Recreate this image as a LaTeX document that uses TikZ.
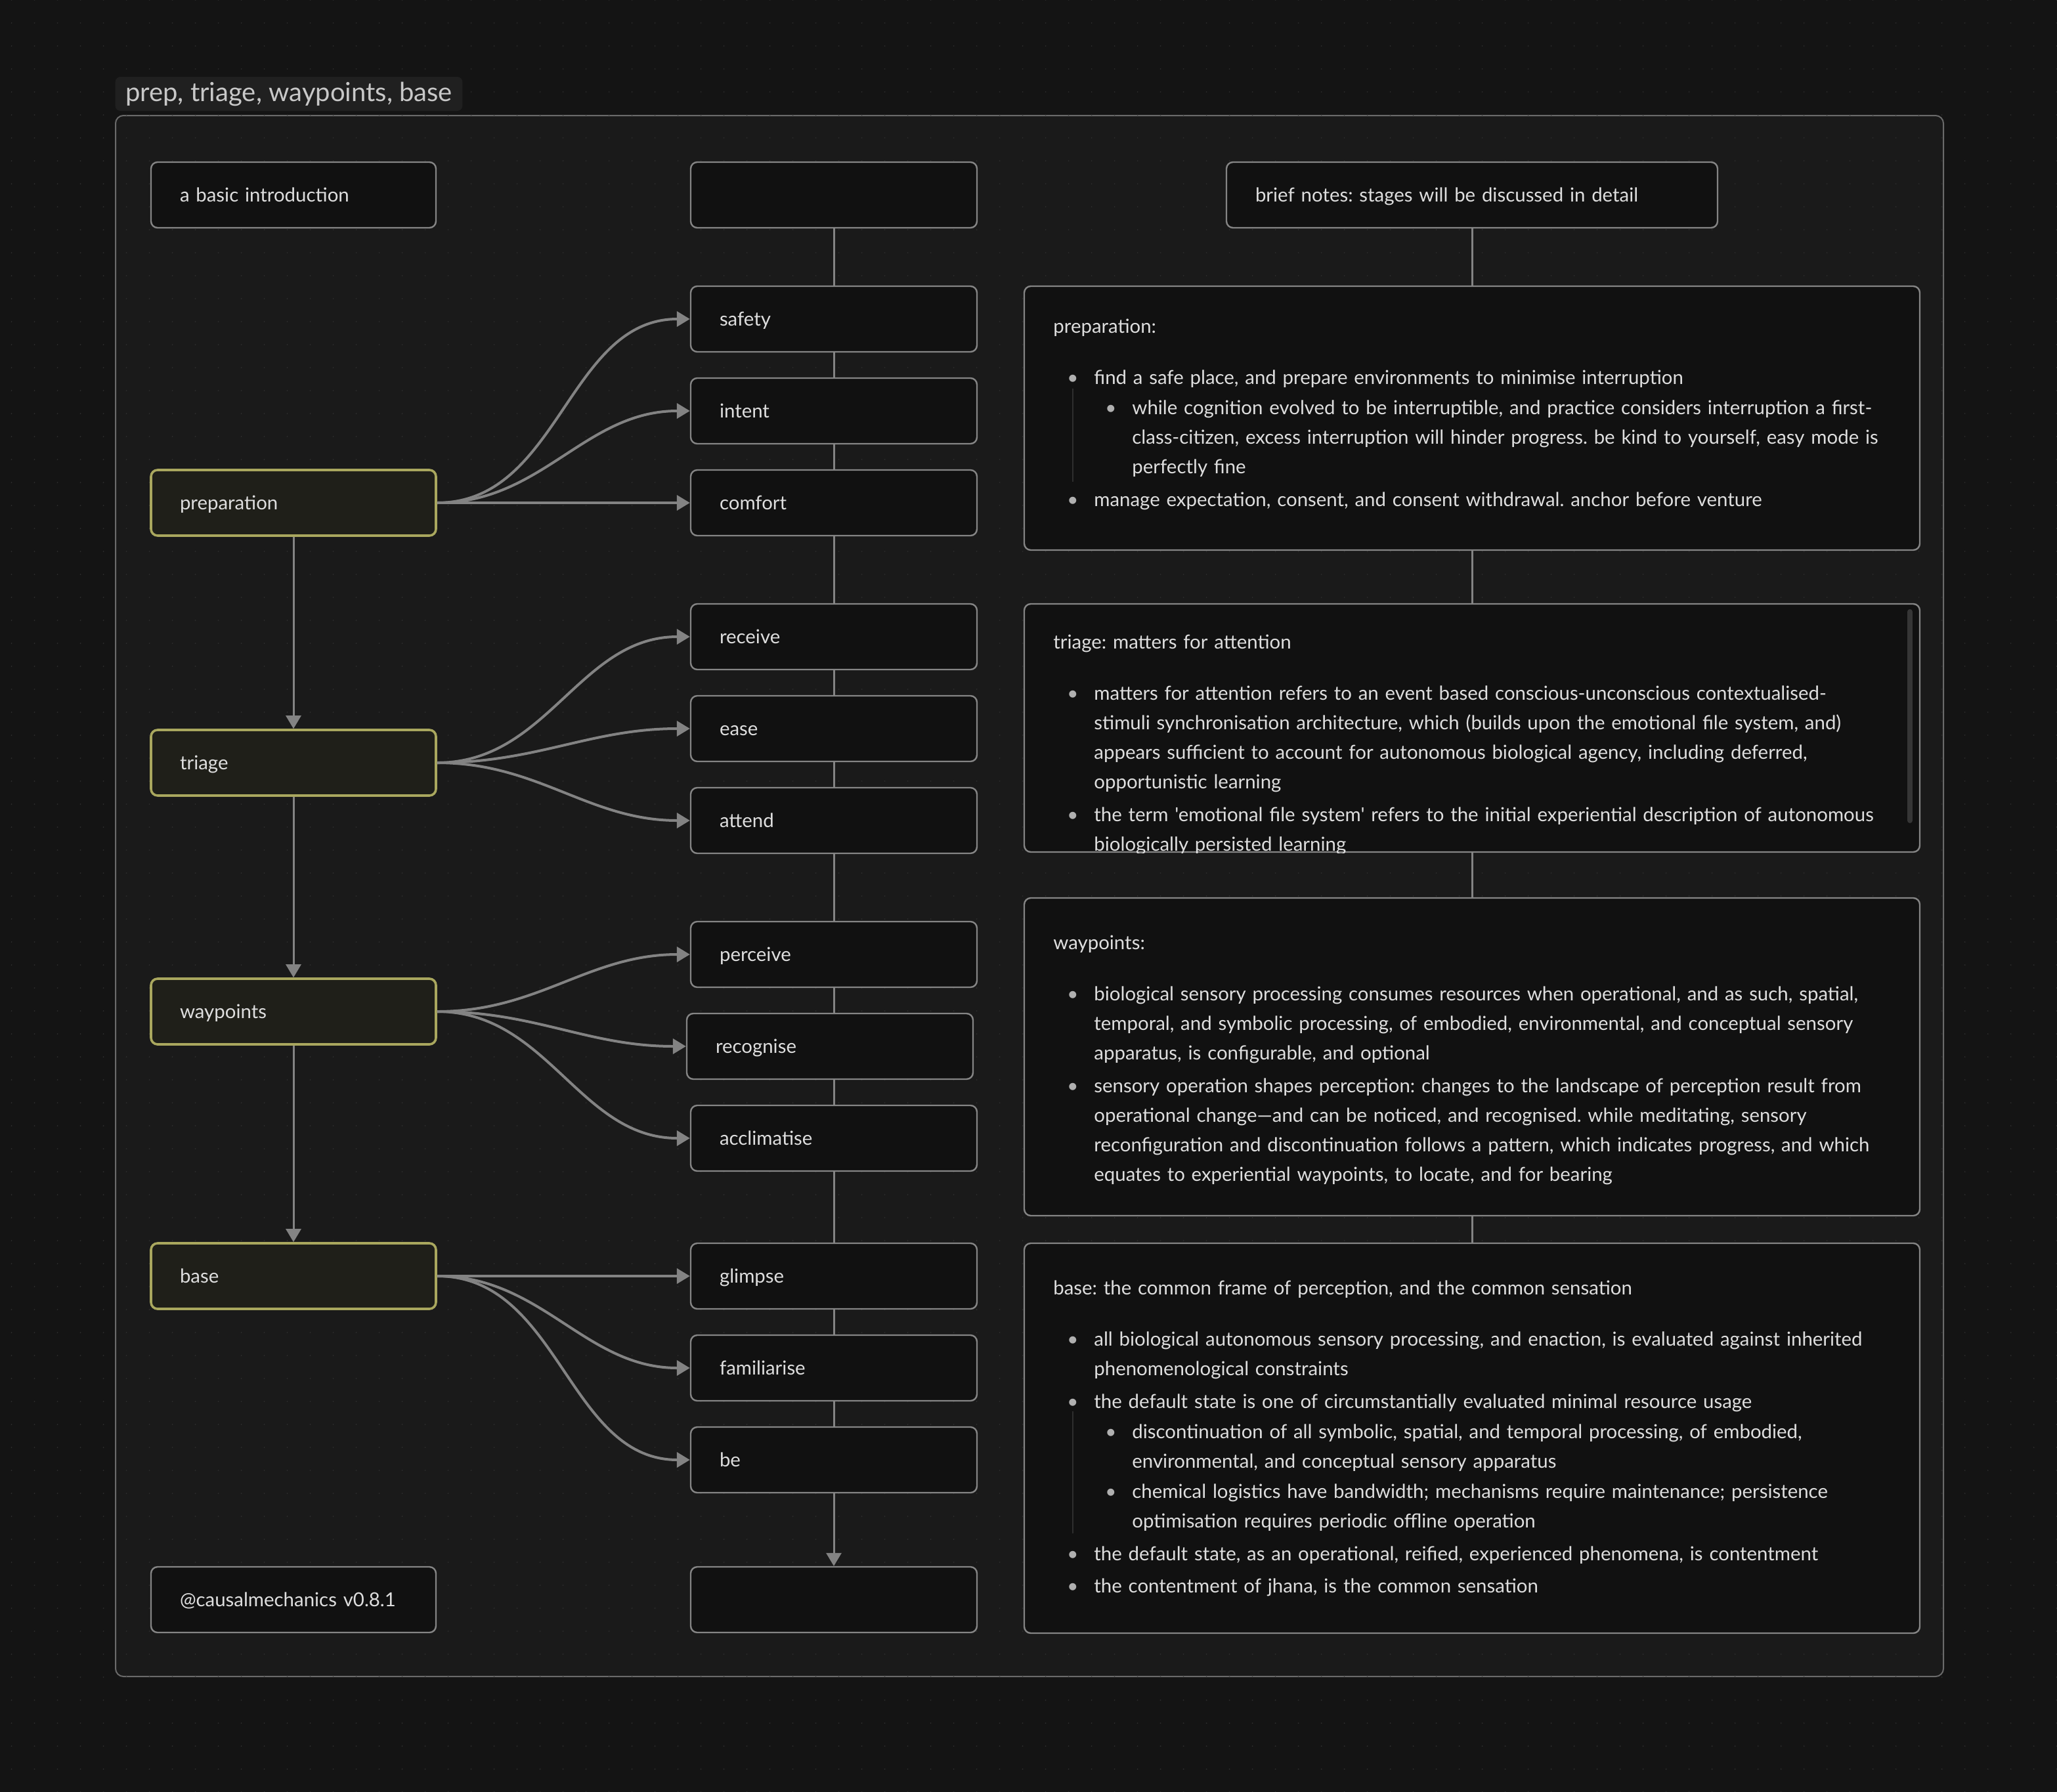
\documentclass[tikz,border=0pt]{standalone}
\usepackage{fontspec}
\setmainfont{Lato}[Ligatures=TeXOff]
\usetikzlibrary{arrows.meta}

\definecolor{pagebg}{HTML}{141414}
\definecolor{framebg}{HTML}{1A1A1A}
\definecolor{framerule}{HTML}{6A6A6A}
\definecolor{tabbg}{HTML}{202020}
\definecolor{tabtext}{HTML}{C8C8C8}
\definecolor{dotgrey}{HTML}{2C2C2C}
\definecolor{boxfill}{HTML}{111111}
\definecolor{boxrule}{HTML}{858585}
\definecolor{stagefill}{HTML}{1F1F19}
\definecolor{stagerule}{HTML}{A9A75E}
\definecolor{linkgrey}{HTML}{838383}
\definecolor{labeltext}{HTML}{DEDEDE}
\definecolor{bulletgrey}{HTML}{B0B0B0}
\definecolor{guidegrey}{HTML}{2E2E2E}
\definecolor{scrollgrey}{HTML}{363636}

\newcommand{\labelfont}{\fontsize{14.7}{26}\selectfont\frenchspacing}
\newcommand{\notefont}{\fontsize{14.7}{22.5}\selectfont\frenchspacing}
\newcommand{\notehead}[1]{#1\par\vspace{14.5pt}}
\newcommand{\noteitem}[1]{\par\vspace{2.3pt}\hangindent=31pt\hangafter=0\noindent\llap{{\color{bulletgrey}\textbullet}\hspace{12pt}}#1\par}
\newcommand{\notesubitem}[1]{\par\vspace{0.6pt}\hangindent=60pt\hangafter=0\noindent\llap{{\color{bulletgrey}\textbullet}\hspace{12pt}}#1\par}

\begin{document}
\begin{tikzpicture}[x=1pt, y=-1pt,
  box/.style={draw=boxrule, fill=boxfill, line width=1.2pt, rounded corners=5pt, minimum height=50pt, inner xsep=22pt, inner ysep=0pt, text width=173pt, align=left, text=labeltext, font=\labelfont, execute at begin node=\strut},
  stage/.style={box, draw=stagerule, fill=stagefill, line width=1.8pt},
  notebox/.style={draw=boxrule, fill=boxfill, line width=1.2pt, rounded corners=5pt, minimum width=682pt},
  notetext/.style={anchor=base west, inner sep=0pt, text width=660pt, align=left, text=labeltext, font=\notefont},
  link/.style={draw=linkgrey, line width=2pt, -{Triangle[length=10pt,width=11.5pt]}},
  flow/.style={draw=linkgrey, line width=1.5pt, -{Triangle[length=10pt,width=11.5pt]}},
  chain/.style={draw=linkgrey, line width=1.5pt}]

\useasboundingbox (0,0) rectangle (1566.5,1365);
\fill[pagebg] (0,0) rectangle (1566.5,1365);
\draw[framerule, fill=framebg, line width=1pt, rounded corners=6pt] (88,88) rectangle (1480,1277);
\foreach \i in {0,...,89}
  \foreach \j in {0,...,78}
    \fill[dotgrey] (8.8+17.5*\i, 17.5*\j) circle (0.55pt);

\node[fill=tabbg, rounded corners=4pt, minimum height=26pt, inner xsep=7.7pt, inner ysep=0pt, anchor=west, text=tabtext, font=\fontsize{20}{24}\selectfont] (title) at (87.6,71.5) {prep, triage, waypoints, base};

\node[box] (intro) at (223.5,148.5) {a basic introduction};
\node[stage] (prep) at (223.5,383) {preparation};
\node[stage] (triage) at (223.5,581) {triage};
\node[stage] (waypoints) at (223.5,770.5) {waypoints};
\node[stage] (base) at (223.5,972) {base};
\node[box] (credit) at (223.5,1218.5) {@causalmechanics v0.8.1};

\node[box, text width=174pt] (midtop) at (635,148.5) {};
\node[box, text width=174pt] (safety) at (635,243) {safety};
\node[box, text width=174pt] (intent) at (635,313) {intent};
\node[box, text width=174pt] (comfort) at (635,383) {comfort};
\node[box, text width=174pt] (receive) at (635,485) {receive};
\node[box, text width=174pt] (ease) at (635,555) {ease};
\node[box, text width=174pt] (attend) at (635,625) {attend};
\node[box, text width=174pt] (perceive) at (635,727) {perceive};
\node[box, text width=174pt] (recognise) at (632,797) {recognise};
\node[box, text width=174pt] (acclimatise) at (635,867) {acclimatise};
\node[box, text width=174pt] (glimpse) at (635,972) {glimpse};
\node[box, text width=174pt] (familiarise) at (635,1042) {familiarise};
\node[box, text width=174pt] (be) at (635,1112) {be};
\node[box, text width=174pt] (midend) at (635,1218.5) {};

\node[box, text width=330pt] (brief) at (1121,148.5) {brief notes: stages will be discussed in detail};
\node[notebox, minimum height=201pt] (prepnotes) at (1121,318.5) {};
\node[notebox, minimum height=189pt] (trnotes) at (1121,554.5) {};
\node[notebox, minimum height=242pt] (wpnotes) at (1121,805) {};
\node[notebox, minimum height=297pt] (basenotes) at (1121,1095.5) {};

\node[notetext] (preptext) at (802,253.5) {\notehead{preparation:}%
\noteitem{find a safe place, and prepare environments to minimise interruption}%
\notesubitem{while cognition evolved to be interruptible, and practice considers interruption a first-\newline class-citizen, excess interruption will hinder progress. be kind to yourself, easy mode is\newline perfectly fine}%
\noteitem{manage expectation, consent, and consent withdrawal. anchor before venture}};
\draw[guidegrey, line width=0.8pt] (817,296) -- (817,367);

\begin{scope}
\clip[rounded corners=5pt] (trnotes.north west) rectangle (trnotes.south east);
\node[notetext] (trtext) at (802,494) {\notehead{triage: matters for attention}%
\noteitem{matters for attention refers to an event based conscious-unconscious contextualised-\newline stimuli synchronisation architecture, which (builds upon the emotional file system, and)\newline appears sufficient to account for autonomous biological agency, including deferred,\newline opportunistic learning}%
\noteitem{the term 'emotional file system' refers to the initial experiential description of autonomous\newline biologically persisted learning}};
\end{scope}
\draw[scrollgrey, line width=4pt, line cap=round] (1454.5,466) -- (1454.5,625);

\node[notetext] (wptext) at (802,723) {\notehead{waypoints:}%
\noteitem{biological sensory processing consumes resources when operational, and as such, spatial,\newline temporal, and symbolic processing, of embodied, environmental, and conceptual sensory\newline apparatus, is configurable, and optional}%
\noteitem{sensory operation shapes perception: changes to the landscape of perception result from\newline operational change—and can be noticed, and recognised. while meditating, sensory\newline reconfiguration and discontinuation follows a pattern, which indicates progress, and which\newline equates to experiential waypoints, to locate, and for bearing}};

\node[notetext] (basetext) at (802,986) {\notehead{base: the common frame of perception, and the common sensation}%
\noteitem{all biological autonomous sensory processing, and enaction, is evaluated against inherited\newline phenomenological constraints}%
\noteitem{the default state is one of circumstantially evaluated minimal resource usage}%
\notesubitem{discontinuation of all symbolic, spatial, and temporal processing, of embodied,\newline environmental, and conceptual sensory apparatus}%
\notesubitem{chemical logistics have bandwidth; mechanisms require maintenance; persistence\newline optimisation requires periodic offline operation}%
\noteitem{the default state, as an operational, reified, experienced phenomena, is contentment}%
\noteitem{the contentment of jhana, is the common sensation}};
\draw[guidegrey, line width=0.8pt] (817,1075) -- (817,1168);

\draw[flow] (prep) -- (triage);
\draw[flow] (triage) -- (waypoints);
\draw[flow] (waypoints) -- (base);

\draw[link] (prep.east) to[out=0,in=180] (safety.west);
\draw[link] (prep.east) to[out=0,in=180] (intent.west);
\draw[link] (prep.east) to[out=0,in=180] (comfort.west);
\draw[link] (triage.east) to[out=0,in=180] (receive.west);
\draw[link] (triage.east) to[out=0,in=180] (ease.west);
\draw[link] (triage.east) to[out=0,in=180] (attend.west);
\draw[link] (waypoints.east) to[out=0,in=180] (perceive.west);
\draw[link] (waypoints.east) to[out=0,in=180] (recognise.west);
\draw[link] (waypoints.east) to[out=0,in=180] (acclimatise.west);
\draw[link] (base.east) to[out=0,in=180] (glimpse.west);
\draw[link] (base.east) to[out=0,in=180] (familiarise.west);
\draw[link] (base.east) to[out=0,in=180] (be.west);

\draw[chain] (midtop) -- (safety) -- (intent) -- (comfort) -- (receive) -- (ease) -- (attend) -- (perceive);
\draw[chain] (perceive.south) -- (perceive.south |- recognise.north);
\draw[chain] (acclimatise.north |- recognise.south) -- (acclimatise.north);
\draw[chain] (acclimatise) -- (glimpse) -- (familiarise) -- (be);
\draw[flow] (be) -- (midend);

\draw[chain] (brief) -- (prepnotes) -- (trnotes) -- (wpnotes) -- (basenotes);
\end{tikzpicture}
\end{document}
